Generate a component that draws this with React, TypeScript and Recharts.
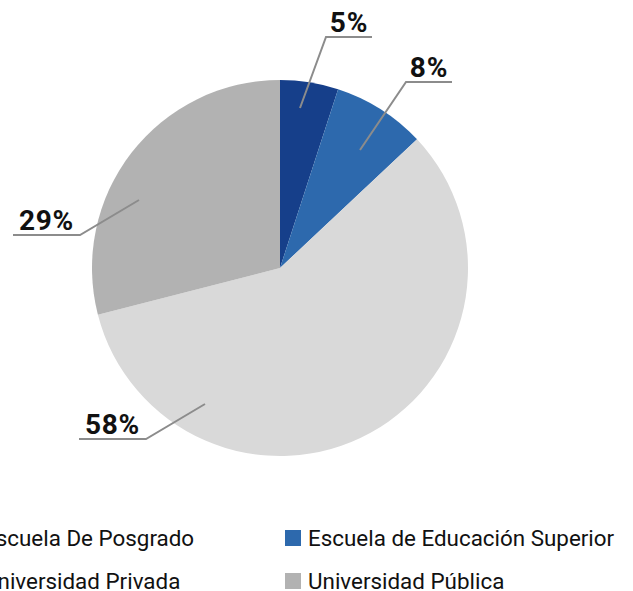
import { PieChart, Pie, Cell, Legend } from "recharts";

const CATEGORIES = [
  "Escuela De Posgrado",
  "Escuela de Educación Superior",
  "Universidad Privada",
  "Universidad Pública",
];
const VALUES = [5, 8, 58, 29];
const COLORS = ["#163f8a", "#2d69ad", "#d9d9d9", "#b2b2b2"];

// leader-line geometry, offsets from the pie centre (Excel-style manual label placement)
const LABEL_LAYOUT = [
  { ax: 20, ay: -160, ex: 46, ey: -231, hx: 92 },
  { ax: 80, ay: -118, ex: 126, ey: -186, hx: 172 },
  { ax: -75, ay: 136, ex: -134, ey: 171, hx: -201 },
  { ax: -141, ay: -68, ex: -200, ey: -33, hx: -267 },
];

const CX = 280;
const CY = 268;
const FONT = "Roboto, 'Noto Sans', sans-serif";

const data = CATEGORIES.map((name, i) => ({ name, value: VALUES[i] }));

function LeaderLabel(props: any) {
  const { index, percent } = props;
  const l = LABEL_LAYOUT[index];
  const x1 = CX + l.ax;
  const y1 = CY + l.ay;
  const x2 = CX + l.ex;
  const y2 = CY + l.ey;
  const x3 = CX + l.hx;
  return (
    <g>
      <polyline
        points={`${x1},${y1} ${x2},${y2} ${x3},${y2}`}
        fill="none"
        stroke="#8c8c8c"
        strokeWidth={2}
      />
      <text
        x={(x2 + x3) / 2}
        y={y2 - 5}
        textAnchor="middle"
        fill="#111"
        fontFamily={FONT}
        fontWeight={700}
        fontSize={28}
        letterSpacing={0.8}
      >
        {`${Math.round(percent * 100)}%`}
      </text>
    </g>
  );
}

function LegendBox() {
  return (
    <div
      style={{
        display: "grid",
        gridTemplateColumns: "325px 325px",
        rowGap: 22,
        fontFamily: FONT,
        fontSize: 22.4,
        fontWeight: 400,
        color: "#111",
      }}
    >
      {CATEGORIES.map((c, i) => (
        <div key={c} style={{ display: "flex", alignItems: "center", height: 21 }}>
          <span
            style={{
              display: "inline-block",
              width: 16,
              height: 16,
              background: COLORS[i],
              marginRight: 7,
              flexShrink: 0,
            }}
          />
          <span style={{ whiteSpace: "nowrap" }}>{c}</span>
        </div>
      ))}
    </div>
  );
}

export default function App() {
  return (
    <div style={{ position: "absolute", left: 0, top: 0, width: 633, height: 591, overflow: "visible" }}>
      <PieChart width={633} height={591} margin={{ top: 0, right: 0, bottom: 0, left: 0 }}>
        <Pie
          data={data}
          dataKey="value"
          nameKey="name"
          cx={CX}
          cy={CY}
          outerRadius={188}
          startAngle={90}
          endAngle={-270}
          stroke="none"
          labelLine={false}
          label={LeaderLabel}
          isAnimationActive={false}
        >
          {data.map((d, i) => (
            <Cell key={d.name} fill={COLORS[i]} />
          ))}
        </Pie>
        <Legend
          content={() => <LegendBox />}
          wrapperStyle={{ position: "absolute", left: -40, top: 527, width: 690 }}
        />
      </PieChart>
    </div>
  );
}
